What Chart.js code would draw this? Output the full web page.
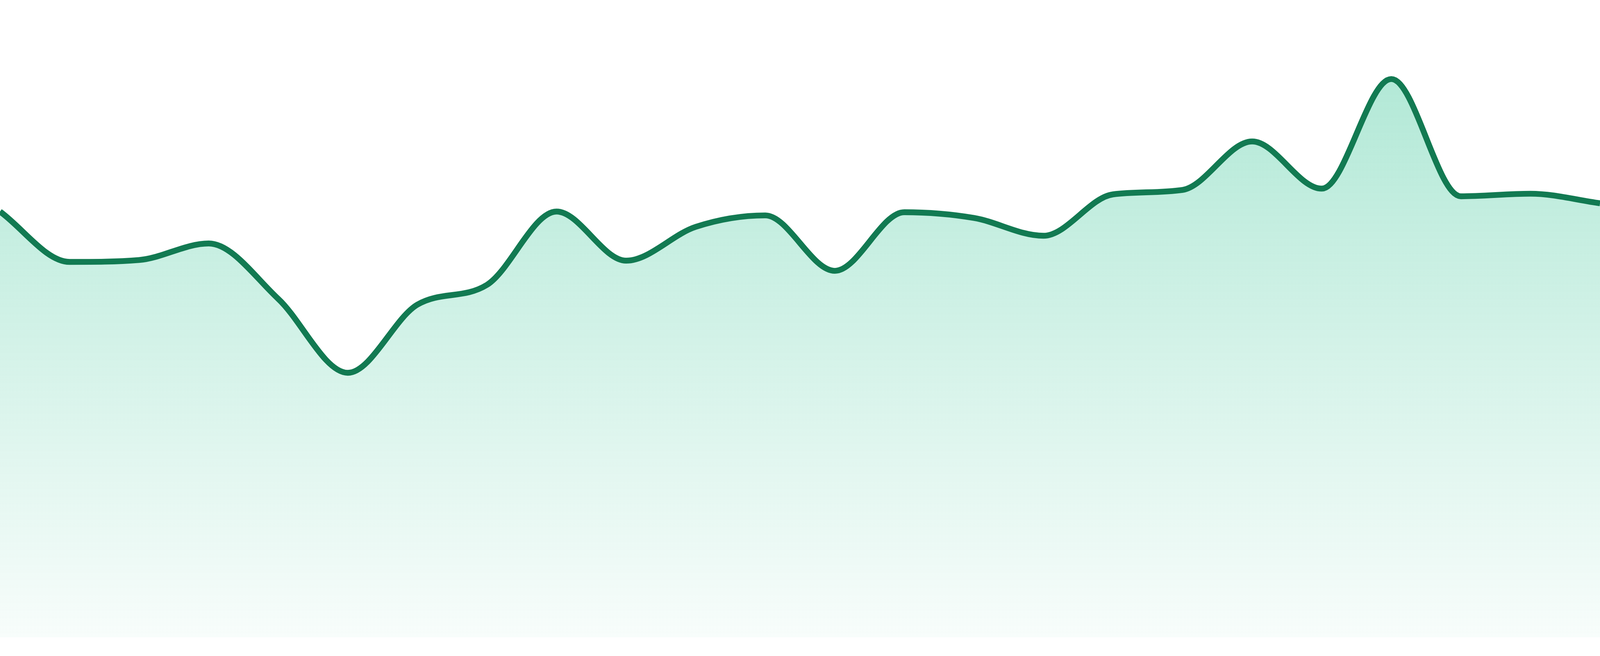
<!DOCTYPE html>
<html>
<head>
<meta charset="utf-8">
<title>Area chart</title>
<script src="https://cdn.jsdelivr.net/npm/chart.js@4"></script>
<style>
  html, body { margin: 0; padding: 0; width: 100%; height: 100%; overflow: hidden; background: #ffffff; }
  #wrap { width: 100vw; height: 100vh; position: relative; }
  canvas { display: block; }
</style>
</head>
<body>
<div id="wrap"><canvas id="dataChart"></canvas></div>
<script>
// categories (no axis labels are shown in the picture)
var labels = ['1', '2', '3', '4', '5', '6', '7', '8', '9', '10', '11', '12',
              '13', '14', '15', '16', '17', '18', '19', '20', '21', '22', '23', '24'];

// series values
var values = [66.8, 58.9, 59.2, 61.8, 53.1, 41.5, 52.2, 55.3, 66.8, 59.1, 64.4, 66.2,
              57.5, 66.7, 65.8, 63.0, 69.5, 70.2, 77.8, 70.4, 87.6, 69.2, 69.6, 68.1];

// the area stops a little above the bottom edge, so the axis goes slightly below 0
var yMin = -2.94;
var yMax = 100;

function areaFill(context) {
  var chart = context.chart;
  var area = chart.chartArea;
  if (!area) return 'rgba(16, 185, 129, 0.2)';
  var y0 = chart.scales.y.getPixelForValue(0);
  var g = chart.ctx.createLinearGradient(0, area.top, 0, y0);
  g.addColorStop(0, 'rgba(16, 185, 129, 0.36)');
  g.addColorStop(1, 'rgba(16, 185, 129, 0.03)');
  return g;
}

var ctx = document.getElementById('dataChart');
var myChart = new Chart(ctx, {
  type: 'line',
  data: {
    labels: labels,
    datasets: [{
      data: values,
      borderColor: '#127a52',
      // line is about 15px thick on a 1680px tall chart
      borderWidth: function(c) { return c.chart.height * 0.0089; },
      backgroundColor: areaFill,
      fill: { value: 0 },
      cubicInterpolationMode: 'monotone',
      pointRadius: 0,
      pointHoverRadius: 0
    }]
  },
  options: {
    responsive: true,
    maintainAspectRatio: false,
    animation: false,
    plugins: {
      legend: { display: false },
      tooltip: { enabled: false }
    },
    scales: {
      x: { display: false, offset: false },
      y: { display: false, min: yMin, max: yMax }
    }
  }
});
</script>
</body>
</html>
